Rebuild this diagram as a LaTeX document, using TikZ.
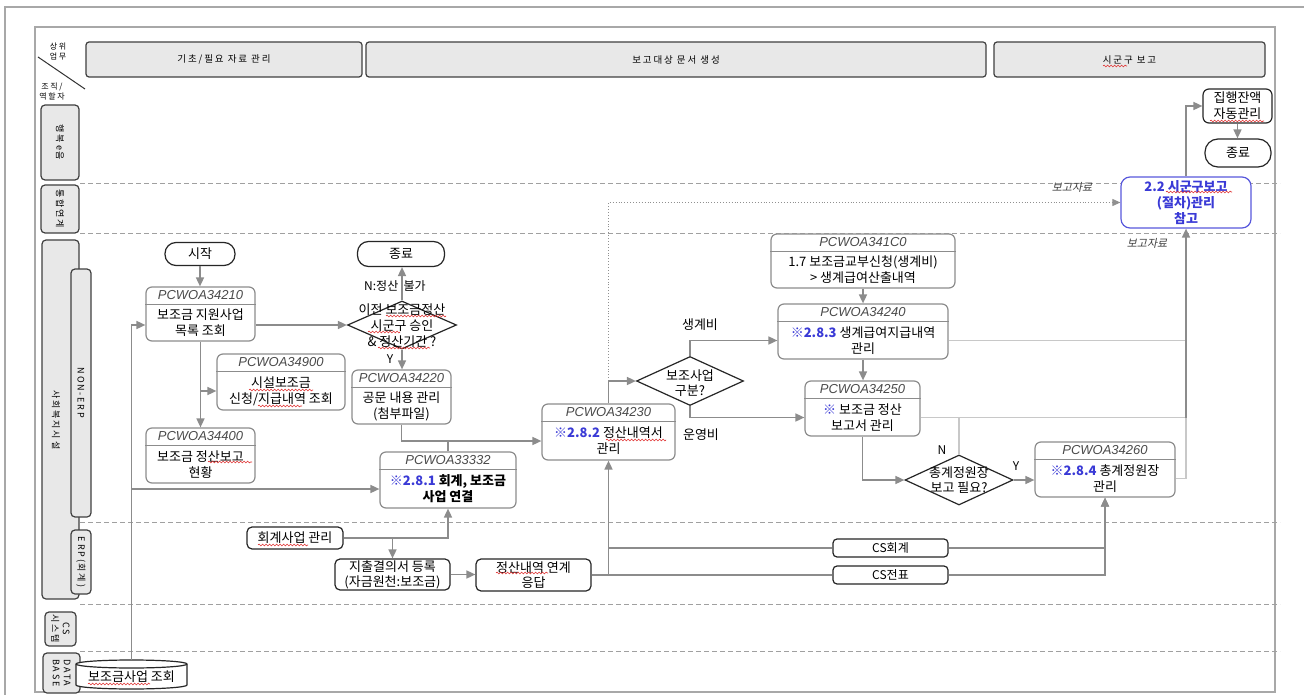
\documentclass[tikz,border=0pt]{standalone}
\usepackage{fontspec}
\setmainfont{Noto Sans CJK KR}
\newfontfamily\codefont{Liberation Sans}
\newfontfamily\slantkr{Noto Sans CJK KR}[FakeSlant=0.2]
\newfontfamily\hdrfont{Noto Sans CJK KR}[LetterSpace=20]
\usetikzlibrary{arrows.meta,shapes.geometric,decorations.pathmorphing}
\definecolor{connc}{HTML}{8C8C8C}
\definecolor{lightc}{HTML}{C8C8C8}
\definecolor{dotc}{HTML}{909090}
\definecolor{boxedge}{HTML}{8C8C8C}
\definecolor{hdrfill}{HTML}{E8E8E8}
\definecolor{hdredge}{HTML}{404040}
\definecolor{refblue}{HTML}{3A3AD6}
\definecolor{laneline}{HTML}{A0A0A0}
\definecolor{framec}{HTML}{A8A8A8}
\definecolor{codegray}{HTML}{4A4A4A}
\definecolor{spellred}{HTML}{E03030}
\newcommand\btxt{\fontsize{13}{16}\selectfont}
\newcommand\blu[1]{\textcolor{refblue}{\bfseries #1}}
\newcommand\procbox[7]{%
  \node[procshape, minimum width=#4pt, minimum height=#5pt] (#1) at (#2,#3) {};
  \draw[boxedge, line width=1pt] ([yshift=-18pt]#1.north west) -- ([yshift=-18pt]#1.north east);
  \node[code] (#1-c) at ([yshift=-9pt]#1.north) {#6};
  \node[btx] (#1-t) at ([yshift=-9pt]#1.center) {#7};
}
\begin{document}
\begin{tikzpicture}[x=1pt,y=-1pt,
  conn/.style={draw=connc, line width=1.6pt},
  arr/.style={conn, -{Triangle[length=9pt,width=8pt]}},
  light/.style={draw=lightc, line width=1.5pt},
  dotarr/.style={draw=dotc, line width=0.9pt, dotted, -{Triangle[length=8pt,width=7pt]}},
  procshape/.style={draw=boxedge, line width=1.2pt, rounded corners=6pt, fill=white, inner sep=0pt},
  blackbox/.style={draw=black!85, line width=1.2pt, rounded corners=5pt, fill=white, inner sep=0pt, align=center, font=\btxt},
  term/.style={draw=black!85, line width=1.2pt, rounded corners=11pt, fill=white, inner sep=0pt, font=\btxt},
  dia/.style={diamond, draw=black!85, line width=1.2pt, fill=white, inner sep=0pt},
  btx/.style={align=center, inner sep=0pt, font=\btxt},
  code/.style={inner sep=0pt, font=\codefont\itshape\fontsize{13}{15}\selectfont, text=codegray},
  hdr/.style={draw=hdredge, fill=hdrfill, line width=1.2pt, rounded corners=3pt, inner sep=0pt, font=\hdrfont\fontsize{9.5}{11}\selectfont},
  lane/.style={draw=hdredge, fill=hdrfill, line width=1.2pt, rounded corners=4pt, inner sep=0pt},
  lanetxt/.style={rotate=-90, inner sep=0pt, align=center, font=\hdrfont\fontsize{9}{11}\selectfont},
  lbl/.style={inner sep=0pt, font=\btxt},
  slbl/.style={inner sep=0pt, font=\slantkr\fontsize{11}{13}\selectfont, text=black!75},
  lanedash/.style={draw=laneline, line width=1pt, dash pattern=on 5pt off 3pt},
  squig/.style={draw=spellred, line width=0.6pt, decorate, decoration={snake, segment length=3.5pt, amplitude=0.9pt}}
]
\useasboundingbox (0,0) rectangle (1304,695);
\fill[white] (0,0) rectangle (1304,695);
% frames
\draw[framec, line width=1.2pt] (5,695) -- (5,7) -- (1304,7);
\draw[framec, line width=1.5pt] (35,27) rectangle (1275,692);
% lane dashed lines
\foreach \yy in {184,234,522,604,651} \draw[lanedash] (80,\yy) -- (1280,\yy);
% headers
\node[hdr, minimum width=276pt, minimum height=35pt] (h1) at (224,59.5) {기초/필요 자료 관리};
\node[hdr, minimum width=620pt, minimum height=35pt] (h2) at (676,59.5) {보고대상 문서 생성};
\node[hdr, minimum width=271pt, minimum height=35pt] (h3) at (1129.5,59.5) {시군구 보고};
% corner
\node[inner sep=0pt, align=center, font=\hdrfont\fontsize{8}{10}\selectfont] (cup) at (58,52) {상위\\업무};
\node[inner sep=0pt, align=center, font=\hdrfont\fontsize{8}{10}\selectfont] (cdn) at (52,92) {조직/\\역할자};
\draw[black!80, line width=1pt] (38,57) -- (85,89);
% lane labels
\node[lane, minimum width=38pt, minimum height=75pt] (lh) at (60,142.5) {};
\node[lanetxt] at (lh) {행복e음};
\node[lane, minimum width=38pt, minimum height=48pt] (lt) at (60,209) {};
\node[lanetxt] at (lt) {통합연계};
\node[lane, minimum width=37pt, minimum height=359pt] (ls) at (60.5,419.5) {};
\node[lanetxt] at (56,420) {사회복지시설};
\node[lane, minimum width=20pt, minimum height=248pt] (ln) at (81,393) {};
\node[lanetxt] at (ln) {NON-ERP};
\node[lane, minimum width=20pt, minimum height=64pt] (le) at (81,562) {};
\node[lanetxt] at (le) {ERP(회계)};
\node[lane, minimum width=31pt, minimum height=34pt] (lc) at (60.5,629) {};
\node[lanetxt] at (lc) {CS\\시스템};
\node[lane, minimum width=37pt, minimum height=40pt] (ld) at (61.5,673) {};
\node[lanetxt] at (ld) {DATA\\BASE};
% database cylinder
\path[fill=white, draw=black!85, line width=1.2pt] (76,664) -- (76,685)
  arc[start angle=180, end angle=360, x radius=55.5pt, y radius=4pt] -- (187,664)
  arc[start angle=0, end angle=180, x radius=55.5pt, y radius=4pt] -- cycle;
\draw[black!85, line width=1.2pt] (76,664) arc[start angle=180, end angle=360, x radius=55.5pt, y radius=4pt];
\node[inner sep=0pt, minimum width=111pt, minimum height=29pt] (db) at (131.5,674.5) {};
\node[lbl] (dbt) at (131.5,677) {보조금사업 조회};
% terminals
\node[term, minimum width=70pt, minimum height=23pt] (start) at (200,254) {시작};
\node[term, minimum width=87pt, minimum height=25pt] (end1) at (401,254) {종료};
\node[term, minimum width=66pt, minimum height=28pt, rounded corners=13pt] (end2) at (1238,153) {종료};
% process boxes
\procbox{p34210}{200.5}{314}{109}{54}{PCWOA34210}{보조금 지원사업\\목록 조회}
\procbox{p34900}{281}{382}{128}{56}{PCWOA34900}{시설보조금\\신청/지급내역 조회}
\procbox{p34400}{200.5}{455.5}{109}{55}{PCWOA34400}{보조금 정산보고\\현황}
\procbox{p34220}{401.5}{397}{99}{54}{PCWOA34220}{공문 내용 관리\\(첨부파일)}
\procbox{p33332}{448}{480}{136}{56}{PCWOA33332}{\bfseries\blu{※2.8.1} 회계, 보조금\\\bfseries 사업 연결}
\procbox{p34230}{608.5}{432}{133}{56}{PCWOA34230}{\blu{※2.8.2} 정산내역서\\관리}
\procbox{p341C0}{863}{261}{184}{54}{PCWOA341C0}{1.7 보조금교부신청(생계비)\\> 생계급여산출내역}
\procbox{p34240}{863}{331.5}{170}{55}{PCWOA34240}{\blu{※2.8.3} 생계급여지급내역\\관리}
\procbox{p34250}{862.5}{408.5}{115}{55}{PCWOA34250}{\blu{※} 보조금 정산\\보고서 관리}
\procbox{p34260}{1105}{469.5}{140}{55}{PCWOA34260}{\blu{※2.8.4} 총계정원장\\관리}
% diamonds
\node[dia, minimum width=109pt, minimum height=48pt] (d1) at (402,325) {};
\node[btx] (d1t) at (402,326) {이전 보조금정산\\시군구 승인\\\& 정산기간 ?};
\node[dia, minimum width=107pt, minimum height=49pt] (d2) at (690,381) {};
\node[btx, font=\fontsize{13}{15}\selectfont] (d2t) at (690,383) {보조사업\\구분?};
\node[dia, minimum width=108pt, minimum height=50pt] (d3) at (959,480) {};
\node[btx, font=\fontsize{13}{15}\selectfont] (d3t) at (959,480) {총계정원장\\보고 필요?};
% ref box
\node[draw=refblue!85, line width=1.2pt, rounded corners=9pt, fill=white, minimum width=130pt, minimum height=51pt, inner sep=0pt] (ref22) at (1186,202.5) {};
\node[btx, text=refblue, font=\bfseries\btxt] (ref22t) at (ref22) {2.2 시군구보고\\(절차)관리\\참고};
\node[blackbox, minimum width=69pt, minimum height=34pt, rounded corners=6pt] (auto) at (1237.5,106) {집행잔액\\자동관리};
% ERP boxes
\node[blackbox, minimum width=96pt, minimum height=22pt] (acct) at (295,538) {회계사업 관리};
\node[blackbox, minimum width=115pt, minimum height=31pt, font=\fontsize{13}{15}\selectfont] (exp) at (392.5,574.5) {지출결의서 등록\\(자금원천:보조금)};
\node[blackbox, minimum width=115pt, minimum height=32pt, font=\fontsize{13}{15}\selectfont] (resp) at (533.5,575) {정산내역 연계\\응답};
\node[blackbox, minimum width=115pt, minimum height=18pt, rounded corners=4pt, font=\fontsize{12}{14}\selectfont] (cs1) at (890.5,548) {CS회계};
\node[blackbox, minimum width=115pt, minimum height=18pt, rounded corners=4pt, font=\fontsize{12}{14}\selectfont] (cs2) at (890.5,575) {CS전표};
% connectors
\draw[arr] (start.south) -- (start.south |- p34210.north);
\draw[arr] (p34210.south) -- (p34400.north);
\draw[arr] (p34210.south |- p34900-t) -- (p34900.west |- p34900-t);
\draw[arr] (p34210.east |- d1.west) -- (d1.west);
\draw[arr] (d1.north) -- (d1.north |- end1.south);
\draw[arr] (d1.south) -- (d1.south |- p34220.north);
\node[lbl, font=\fontsize{12}{14}\selectfont] (nlbl) at (395,286) {N:정산 \ 불가};
\node[lbl, font=\fontsize{12}{14}\selectfont] (ylbl) at (390,359) {Y};
\draw[arr] (db.north) |- (p34210.west |- d1.west);
\draw[arr] (db.north |- p33332-t) -- (p33332.west |- p33332-t);
\draw[arr] (p34220.south) |- (p34230.west |- p34230-t);
\draw[conn] (p33332.north) -- (p33332.north |- p34230-t);
\draw[arr] (acct.east) -| (p33332.south);
\draw[arr] (acct.east -| exp.north) -- (exp.north);
\draw[arr] (exp.east) -- (exp.east -| resp.west);
\draw[arr] (resp.east) -| (p34230.south);
\draw[conn] (resp.east) -- (cs2.west);
\draw[conn] (p34230.south |- cs1.west) -- (cs1.west);
\draw[arr] (cs1.east) -| (p34260.south);
\draw[arr] (cs2.east) -| (p34260.south);
\draw[arr] (p34230.north) |- (d2.west);
\draw[dotarr] (p34230.north |- d2.west) |- (ref22.west);
\node[slbl] (rl1) at (1072,187) {보고자료};
\draw[arr] (d2.north) |- (p34240.west |- p34240-t);
\draw[arr] (d2.south) |- (p34250.west |- p34250-t);
\node[lbl] (lsg) at (700,325) {생계비};
\node[lbl] (lun) at (701,435) {운영비};
\draw[arr] (p341C0.south) -- (p341C0.south |- p34240.north);
\draw[arr] (p34240.south) -- (p34240.south |- p34250.north);
\draw[arr] (p34250.south) |- (d3.west);
\draw[arr] (d3.east) -- (d3.east -| p34260.west);
\node[lbl, font=\fontsize{12}{14}\selectfont] (ny) at (1016,466) {Y};
\node[lbl, font=\fontsize{12}{14}\selectfont] (nn) at (942,450) {N};
\draw[light] (d3.north) -- (d3.north |- p34250-t);
\draw[light] (p34240.east |- p34240-t) -- (ref22.south |- p34240-t);
\draw[light] (p34250.east |- p34250-t) -- (ref22.south |- p34250-t);
\draw[light] (p34260.east |- p34260-t) -- (ref22.south |- p34260-t) -- (ref22.south |- p34250-t);
\draw[arr] (ref22.south |- p34250-t) -- (ref22.south);
\node[slbl] (rl2) at (1147,243) {보고자료};
\draw[arr] (ref22.north) |- (auto.west);
\draw[arr] (auto.south) -- (auto.south |- end2.north);
% spell-check squiggles
\draw[squig] (1103,66) -- (1127,66);
\draw[squig] (208,462) -- (252,462);
\draw[squig] (249,390) -- (313,390);
\draw[squig] (258,406) -- (302,406);
\draw[squig] (386,316) -- (446,316);
\draw[squig] (368,332) -- (400,332);
\draw[squig] (378,348) -- (430,348);
\draw[squig] (606,440) -- (666,440);
\draw[squig] (1166,192) -- (1232,192);
\draw[squig] (1210,121) -- (1264,121);
\draw[squig] (258,545) -- (308,545);
\draw[squig] (88,684) -- (150,684);
\draw[squig] (496,573) -- (548,573);
\end{tikzpicture}
\end{document}
